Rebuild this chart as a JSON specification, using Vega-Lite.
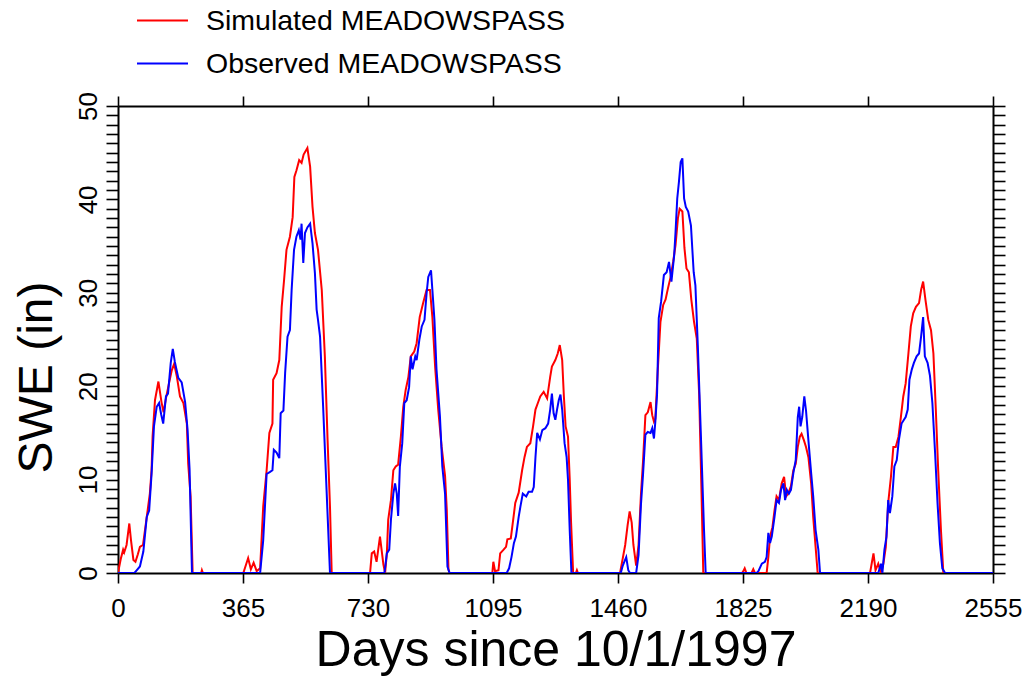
{
  "$schema": "https://vega.github.io/schema/vega-lite/v6.json",
  "width": 875,
  "height": 467,
  "autosize": {"type": "none"},
  "padding": {"left": 118, "top": 106, "right": 38, "bottom": 107},
  "background": "white",
  "config": {
    "view": {"stroke": null},
    "font": "Liberation Sans",
    "axis": {
      "domainColor": "black", "domainWidth": 2, "tickColor": "black", "tickWidth": 1.6,
      "labelColor": "black", "titleColor": "black", "grid": false, "zindex": 1,
      "labelFont": "Liberation Sans", "titleFont": "Liberation Sans", "titleFontWeight": "normal"
    }
  },
  "datasets": {
    "swe": [
      {"day": 0, "swe": 0, "series": "Simulated MEADOWSPASS"},
      {"day": 8, "swe": 1.5, "series": "Simulated MEADOWSPASS"},
      {"day": 15, "swe": 2.5, "series": "Simulated MEADOWSPASS"},
      {"day": 18, "swe": 2.2, "series": "Simulated MEADOWSPASS"},
      {"day": 25, "swe": 3, "series": "Simulated MEADOWSPASS"},
      {"day": 33, "swe": 5.3, "series": "Simulated MEADOWSPASS"},
      {"day": 38, "swe": 3.5, "series": "Simulated MEADOWSPASS"},
      {"day": 45, "swe": 1.4, "series": "Simulated MEADOWSPASS"},
      {"day": 51, "swe": 1.2, "series": "Simulated MEADOWSPASS"},
      {"day": 58, "swe": 2, "series": "Simulated MEADOWSPASS"},
      {"day": 64, "swe": 2.8, "series": "Simulated MEADOWSPASS"},
      {"day": 73, "swe": 3, "series": "Simulated MEADOWSPASS"},
      {"day": 84, "swe": 6, "series": "Simulated MEADOWSPASS"},
      {"day": 93, "swe": 8.5, "series": "Simulated MEADOWSPASS"},
      {"day": 98, "swe": 11, "series": "Simulated MEADOWSPASS"},
      {"day": 101, "swe": 14.6, "series": "Simulated MEADOWSPASS"},
      {"day": 108, "swe": 18.5, "series": "Simulated MEADOWSPASS"},
      {"day": 118, "swe": 20.5, "series": "Simulated MEADOWSPASS"},
      {"day": 127, "swe": 18.3, "series": "Simulated MEADOWSPASS"},
      {"day": 133, "swe": 17.2, "series": "Simulated MEADOWSPASS"},
      {"day": 140, "swe": 18.7, "series": "Simulated MEADOWSPASS"},
      {"day": 150, "swe": 20.5, "series": "Simulated MEADOWSPASS"},
      {"day": 157, "swe": 21.7, "series": "Simulated MEADOWSPASS"},
      {"day": 164, "swe": 22.4, "series": "Simulated MEADOWSPASS"},
      {"day": 172, "swe": 21, "series": "Simulated MEADOWSPASS"},
      {"day": 181, "swe": 18.9, "series": "Simulated MEADOWSPASS"},
      {"day": 191, "swe": 18.2, "series": "Simulated MEADOWSPASS"},
      {"day": 201, "swe": 16, "series": "Simulated MEADOWSPASS"},
      {"day": 205, "swe": 11.7, "series": "Simulated MEADOWSPASS"},
      {"day": 212, "swe": 8.2, "series": "Simulated MEADOWSPASS"},
      {"day": 218, "swe": 0, "series": "Simulated MEADOWSPASS"},
      {"day": 243, "swe": 0, "series": "Simulated MEADOWSPASS"},
      {"day": 245, "swe": 0.3, "series": "Simulated MEADOWSPASS"},
      {"day": 248, "swe": 0, "series": "Simulated MEADOWSPASS"},
      {"day": 366, "swe": 0, "series": "Simulated MEADOWSPASS"},
      {"day": 380, "swe": 1.6, "series": "Simulated MEADOWSPASS"},
      {"day": 388, "swe": 0.4, "series": "Simulated MEADOWSPASS"},
      {"day": 396, "swe": 1.1, "series": "Simulated MEADOWSPASS"},
      {"day": 405, "swe": 0.2, "series": "Simulated MEADOWSPASS"},
      {"day": 415, "swe": 0.5, "series": "Simulated MEADOWSPASS"},
      {"day": 424, "swe": 7.1, "series": "Simulated MEADOWSPASS"},
      {"day": 434, "swe": 11, "series": "Simulated MEADOWSPASS"},
      {"day": 442, "swe": 15, "series": "Simulated MEADOWSPASS"},
      {"day": 451, "swe": 16, "series": "Simulated MEADOWSPASS"},
      {"day": 453, "swe": 20.7, "series": "Simulated MEADOWSPASS"},
      {"day": 463, "swe": 21.4, "series": "Simulated MEADOWSPASS"},
      {"day": 471, "swe": 22.8, "series": "Simulated MEADOWSPASS"},
      {"day": 478, "swe": 28.5, "series": "Simulated MEADOWSPASS"},
      {"day": 485, "swe": 31.4, "series": "Simulated MEADOWSPASS"},
      {"day": 492, "swe": 34.6, "series": "Simulated MEADOWSPASS"},
      {"day": 502, "swe": 36, "series": "Simulated MEADOWSPASS"},
      {"day": 510, "swe": 38.1, "series": "Simulated MEADOWSPASS"},
      {"day": 515, "swe": 42.4, "series": "Simulated MEADOWSPASS"},
      {"day": 521, "swe": 43.1, "series": "Simulated MEADOWSPASS"},
      {"day": 529, "swe": 44.2, "series": "Simulated MEADOWSPASS"},
      {"day": 536, "swe": 43.9, "series": "Simulated MEADOWSPASS"},
      {"day": 542, "swe": 44.8, "series": "Simulated MEADOWSPASS"},
      {"day": 553, "swe": 45.5, "series": "Simulated MEADOWSPASS"},
      {"day": 561, "swe": 43.5, "series": "Simulated MEADOWSPASS"},
      {"day": 568, "swe": 39.2, "series": "Simulated MEADOWSPASS"},
      {"day": 575, "swe": 36.4, "series": "Simulated MEADOWSPASS"},
      {"day": 584, "swe": 34.6, "series": "Simulated MEADOWSPASS"},
      {"day": 595, "swe": 30.3, "series": "Simulated MEADOWSPASS"},
      {"day": 604, "swe": 23.2, "series": "Simulated MEADOWSPASS"},
      {"day": 612, "swe": 14.2, "series": "Simulated MEADOWSPASS"},
      {"day": 619, "swe": 7.1, "series": "Simulated MEADOWSPASS"},
      {"day": 624, "swe": 0, "series": "Simulated MEADOWSPASS"},
      {"day": 736, "swe": 0, "series": "Simulated MEADOWSPASS"},
      {"day": 741, "swe": 2.1, "series": "Simulated MEADOWSPASS"},
      {"day": 748, "swe": 2.3, "series": "Simulated MEADOWSPASS"},
      {"day": 755, "swe": 1.2, "series": "Simulated MEADOWSPASS"},
      {"day": 765, "swe": 3.9, "series": "Simulated MEADOWSPASS"},
      {"day": 775, "swe": 0.9, "series": "Simulated MEADOWSPASS"},
      {"day": 780, "swe": 0, "series": "Simulated MEADOWSPASS"},
      {"day": 785, "swe": 2.1, "series": "Simulated MEADOWSPASS"},
      {"day": 789, "swe": 5.7, "series": "Simulated MEADOWSPASS"},
      {"day": 797, "swe": 7.8, "series": "Simulated MEADOWSPASS"},
      {"day": 804, "swe": 11, "series": "Simulated MEADOWSPASS"},
      {"day": 811, "swe": 11.4, "series": "Simulated MEADOWSPASS"},
      {"day": 818, "swe": 11.6, "series": "Simulated MEADOWSPASS"},
      {"day": 826, "swe": 14.6, "series": "Simulated MEADOWSPASS"},
      {"day": 833, "swe": 17.8, "series": "Simulated MEADOWSPASS"},
      {"day": 840, "swe": 19.6, "series": "Simulated MEADOWSPASS"},
      {"day": 848, "swe": 21, "series": "Simulated MEADOWSPASS"},
      {"day": 855, "swe": 23.2, "series": "Simulated MEADOWSPASS"},
      {"day": 865, "swe": 23.7, "series": "Simulated MEADOWSPASS"},
      {"day": 872, "swe": 24.6, "series": "Simulated MEADOWSPASS"},
      {"day": 881, "swe": 27.4, "series": "Simulated MEADOWSPASS"},
      {"day": 891, "swe": 28.9, "series": "Simulated MEADOWSPASS"},
      {"day": 901, "swe": 30.3, "series": "Simulated MEADOWSPASS"},
      {"day": 911, "swe": 30.3, "series": "Simulated MEADOWSPASS"},
      {"day": 918, "swe": 27.4, "series": "Simulated MEADOWSPASS"},
      {"day": 926, "swe": 22.1, "series": "Simulated MEADOWSPASS"},
      {"day": 935, "swe": 17.5, "series": "Simulated MEADOWSPASS"},
      {"day": 945, "swe": 13.5, "series": "Simulated MEADOWSPASS"},
      {"day": 955, "swe": 10.4, "series": "Simulated MEADOWSPASS"},
      {"day": 960, "swe": 6.8, "series": "Simulated MEADOWSPASS"},
      {"day": 965, "swe": 0.4, "series": "Simulated MEADOWSPASS"},
      {"day": 968, "swe": 0, "series": "Simulated MEADOWSPASS"},
      {"day": 1093, "swe": 0, "series": "Simulated MEADOWSPASS"},
      {"day": 1096, "swe": 1.2, "series": "Simulated MEADOWSPASS"},
      {"day": 1101, "swe": 0.2, "series": "Simulated MEADOWSPASS"},
      {"day": 1111, "swe": 0.3, "series": "Simulated MEADOWSPASS"},
      {"day": 1116, "swe": 2.1, "series": "Simulated MEADOWSPASS"},
      {"day": 1126, "swe": 2.5, "series": "Simulated MEADOWSPASS"},
      {"day": 1133, "swe": 2.8, "series": "Simulated MEADOWSPASS"},
      {"day": 1137, "swe": 3.6, "series": "Simulated MEADOWSPASS"},
      {"day": 1147, "swe": 3.7, "series": "Simulated MEADOWSPASS"},
      {"day": 1155, "swe": 6, "series": "Simulated MEADOWSPASS"},
      {"day": 1160, "swe": 7.5, "series": "Simulated MEADOWSPASS"},
      {"day": 1170, "swe": 8.6, "series": "Simulated MEADOWSPASS"},
      {"day": 1180, "swe": 11, "series": "Simulated MEADOWSPASS"},
      {"day": 1187, "swe": 12.4, "series": "Simulated MEADOWSPASS"},
      {"day": 1194, "swe": 13.5, "series": "Simulated MEADOWSPASS"},
      {"day": 1204, "swe": 13.9, "series": "Simulated MEADOWSPASS"},
      {"day": 1212, "swe": 15.7, "series": "Simulated MEADOWSPASS"},
      {"day": 1219, "swe": 17.5, "series": "Simulated MEADOWSPASS"},
      {"day": 1226, "swe": 18.2, "series": "Simulated MEADOWSPASS"},
      {"day": 1233, "swe": 18.9, "series": "Simulated MEADOWSPASS"},
      {"day": 1243, "swe": 19.4, "series": "Simulated MEADOWSPASS"},
      {"day": 1253, "swe": 18.7, "series": "Simulated MEADOWSPASS"},
      {"day": 1262, "swe": 21, "series": "Simulated MEADOWSPASS"},
      {"day": 1267, "swe": 22.1, "series": "Simulated MEADOWSPASS"},
      {"day": 1277, "swe": 22.8, "series": "Simulated MEADOWSPASS"},
      {"day": 1284, "swe": 23.5, "series": "Simulated MEADOWSPASS"},
      {"day": 1290, "swe": 24.4, "series": "Simulated MEADOWSPASS"},
      {"day": 1297, "swe": 22.8, "series": "Simulated MEADOWSPASS"},
      {"day": 1302, "swe": 18.9, "series": "Simulated MEADOWSPASS"},
      {"day": 1307, "swe": 15.7, "series": "Simulated MEADOWSPASS"},
      {"day": 1314, "swe": 14.6, "series": "Simulated MEADOWSPASS"},
      {"day": 1319, "swe": 10, "series": "Simulated MEADOWSPASS"},
      {"day": 1323, "swe": 5.4, "series": "Simulated MEADOWSPASS"},
      {"day": 1329, "swe": 0, "series": "Simulated MEADOWSPASS"},
      {"day": 1337, "swe": 0, "series": "Simulated MEADOWSPASS"},
      {"day": 1340, "swe": 0.3, "series": "Simulated MEADOWSPASS"},
      {"day": 1343, "swe": 0, "series": "Simulated MEADOWSPASS"},
      {"day": 1466, "swe": 0, "series": "Simulated MEADOWSPASS"},
      {"day": 1474, "swe": 1.6, "series": "Simulated MEADOWSPASS"},
      {"day": 1481, "swe": 3, "series": "Simulated MEADOWSPASS"},
      {"day": 1488, "swe": 5.1, "series": "Simulated MEADOWSPASS"},
      {"day": 1494, "swe": 6.6, "series": "Simulated MEADOWSPASS"},
      {"day": 1500, "swe": 5.4, "series": "Simulated MEADOWSPASS"},
      {"day": 1505, "swe": 3, "series": "Simulated MEADOWSPASS"},
      {"day": 1513, "swe": 0.8, "series": "Simulated MEADOWSPASS"},
      {"day": 1520, "swe": 3, "series": "Simulated MEADOWSPASS"},
      {"day": 1527, "swe": 8.4, "series": "Simulated MEADOWSPASS"},
      {"day": 1533, "swe": 11.9, "series": "Simulated MEADOWSPASS"},
      {"day": 1540, "swe": 16.9, "series": "Simulated MEADOWSPASS"},
      {"day": 1547, "swe": 17.2, "series": "Simulated MEADOWSPASS"},
      {"day": 1555, "swe": 18.3, "series": "Simulated MEADOWSPASS"},
      {"day": 1560, "swe": 16.9, "series": "Simulated MEADOWSPASS"},
      {"day": 1565, "swe": 16.2, "series": "Simulated MEADOWSPASS"},
      {"day": 1569, "swe": 16.5, "series": "Simulated MEADOWSPASS"},
      {"day": 1576, "swe": 21.6, "series": "Simulated MEADOWSPASS"},
      {"day": 1584, "swe": 26.9, "series": "Simulated MEADOWSPASS"},
      {"day": 1592, "swe": 28.7, "series": "Simulated MEADOWSPASS"},
      {"day": 1599, "swe": 29.3, "series": "Simulated MEADOWSPASS"},
      {"day": 1606, "swe": 30.5, "series": "Simulated MEADOWSPASS"},
      {"day": 1613, "swe": 31.6, "series": "Simulated MEADOWSPASS"},
      {"day": 1621, "swe": 33.3, "series": "Simulated MEADOWSPASS"},
      {"day": 1628, "swe": 35.1, "series": "Simulated MEADOWSPASS"},
      {"day": 1635, "swe": 38, "series": "Simulated MEADOWSPASS"},
      {"day": 1640, "swe": 39, "series": "Simulated MEADOWSPASS"},
      {"day": 1648, "swe": 38.7, "series": "Simulated MEADOWSPASS"},
      {"day": 1654, "swe": 34.8, "series": "Simulated MEADOWSPASS"},
      {"day": 1660, "swe": 32.6, "series": "Simulated MEADOWSPASS"},
      {"day": 1667, "swe": 32.2, "series": "Simulated MEADOWSPASS"},
      {"day": 1674, "swe": 29.3, "series": "Simulated MEADOWSPASS"},
      {"day": 1682, "swe": 26.9, "series": "Simulated MEADOWSPASS"},
      {"day": 1690, "swe": 25.1, "series": "Simulated MEADOWSPASS"},
      {"day": 1697, "swe": 19.1, "series": "Simulated MEADOWSPASS"},
      {"day": 1704, "swe": 8.4, "series": "Simulated MEADOWSPASS"},
      {"day": 1709, "swe": 0, "series": "Simulated MEADOWSPASS"},
      {"day": 1822, "swe": 0, "series": "Simulated MEADOWSPASS"},
      {"day": 1826, "swe": 0.2, "series": "Simulated MEADOWSPASS"},
      {"day": 1830, "swe": 0.5, "series": "Simulated MEADOWSPASS"},
      {"day": 1835, "swe": 0, "series": "Simulated MEADOWSPASS"},
      {"day": 1850, "swe": 0, "series": "Simulated MEADOWSPASS"},
      {"day": 1855, "swe": 0.4, "series": "Simulated MEADOWSPASS"},
      {"day": 1860, "swe": 0, "series": "Simulated MEADOWSPASS"},
      {"day": 1894, "swe": 0, "series": "Simulated MEADOWSPASS"},
      {"day": 1899, "swe": 1.7, "series": "Simulated MEADOWSPASS"},
      {"day": 1904, "swe": 3.9, "series": "Simulated MEADOWSPASS"},
      {"day": 1911, "swe": 4.9, "series": "Simulated MEADOWSPASS"},
      {"day": 1917, "swe": 6.7, "series": "Simulated MEADOWSPASS"},
      {"day": 1923, "swe": 8.2, "series": "Simulated MEADOWSPASS"},
      {"day": 1930, "swe": 7.8, "series": "Simulated MEADOWSPASS"},
      {"day": 1938, "swe": 9.6, "series": "Simulated MEADOWSPASS"},
      {"day": 1945, "swe": 10.3, "series": "Simulated MEADOWSPASS"},
      {"day": 1951, "swe": 8.2, "series": "Simulated MEADOWSPASS"},
      {"day": 1957, "swe": 8.5, "series": "Simulated MEADOWSPASS"},
      {"day": 1965, "swe": 9.3, "series": "Simulated MEADOWSPASS"},
      {"day": 1972, "swe": 11, "series": "Simulated MEADOWSPASS"},
      {"day": 1979, "swe": 11.7, "series": "Simulated MEADOWSPASS"},
      {"day": 1985, "swe": 13.5, "series": "Simulated MEADOWSPASS"},
      {"day": 1991, "swe": 14.6, "series": "Simulated MEADOWSPASS"},
      {"day": 1996, "swe": 14.9, "series": "Simulated MEADOWSPASS"},
      {"day": 2003, "swe": 14.2, "series": "Simulated MEADOWSPASS"},
      {"day": 2009, "swe": 13.5, "series": "Simulated MEADOWSPASS"},
      {"day": 2016, "swe": 12.4, "series": "Simulated MEADOWSPASS"},
      {"day": 2024, "swe": 9.6, "series": "Simulated MEADOWSPASS"},
      {"day": 2030, "swe": 6, "series": "Simulated MEADOWSPASS"},
      {"day": 2037, "swe": 2.8, "series": "Simulated MEADOWSPASS"},
      {"day": 2043, "swe": 0, "series": "Simulated MEADOWSPASS"},
      {"day": 2196, "swe": 0, "series": "Simulated MEADOWSPASS"},
      {"day": 2206, "swe": 2.1, "series": "Simulated MEADOWSPASS"},
      {"day": 2212, "swe": 0.3, "series": "Simulated MEADOWSPASS"},
      {"day": 2220, "swe": 1, "series": "Simulated MEADOWSPASS"},
      {"day": 2228, "swe": 0, "series": "Simulated MEADOWSPASS"},
      {"day": 2235, "swe": 1, "series": "Simulated MEADOWSPASS"},
      {"day": 2242, "swe": 2.8, "series": "Simulated MEADOWSPASS"},
      {"day": 2249, "swe": 7.5, "series": "Simulated MEADOWSPASS"},
      {"day": 2257, "swe": 10.3, "series": "Simulated MEADOWSPASS"},
      {"day": 2264, "swe": 13.5, "series": "Simulated MEADOWSPASS"},
      {"day": 2271, "swe": 13.5, "series": "Simulated MEADOWSPASS"},
      {"day": 2279, "swe": 14.6, "series": "Simulated MEADOWSPASS"},
      {"day": 2286, "swe": 16.7, "series": "Simulated MEADOWSPASS"},
      {"day": 2293, "swe": 18.9, "series": "Simulated MEADOWSPASS"},
      {"day": 2300, "swe": 20.3, "series": "Simulated MEADOWSPASS"},
      {"day": 2308, "swe": 23.5, "series": "Simulated MEADOWSPASS"},
      {"day": 2315, "swe": 26.4, "series": "Simulated MEADOWSPASS"},
      {"day": 2322, "swe": 27.8, "series": "Simulated MEADOWSPASS"},
      {"day": 2330, "swe": 28.5, "series": "Simulated MEADOWSPASS"},
      {"day": 2339, "swe": 28.9, "series": "Simulated MEADOWSPASS"},
      {"day": 2345, "swe": 30.3, "series": "Simulated MEADOWSPASS"},
      {"day": 2351, "swe": 31.2, "series": "Simulated MEADOWSPASS"},
      {"day": 2358, "swe": 29.2, "series": "Simulated MEADOWSPASS"},
      {"day": 2366, "swe": 27.1, "series": "Simulated MEADOWSPASS"},
      {"day": 2374, "swe": 26, "series": "Simulated MEADOWSPASS"},
      {"day": 2381, "swe": 23.5, "series": "Simulated MEADOWSPASS"},
      {"day": 2388, "swe": 17.5, "series": "Simulated MEADOWSPASS"},
      {"day": 2395, "swe": 11, "series": "Simulated MEADOWSPASS"},
      {"day": 2403, "swe": 4.6, "series": "Simulated MEADOWSPASS"},
      {"day": 2410, "swe": 0, "series": "Simulated MEADOWSPASS"},
      {"day": 2555, "swe": 0, "series": "Simulated MEADOWSPASS"},

      {"day": 0, "swe": 0, "series": "Observed MEADOWSPASS"},
      {"day": 48, "swe": 0, "series": "Observed MEADOWSPASS"},
      {"day": 55, "swe": 0.3, "series": "Observed MEADOWSPASS"},
      {"day": 64, "swe": 0.7, "series": "Observed MEADOWSPASS"},
      {"day": 74, "swe": 2.3, "series": "Observed MEADOWSPASS"},
      {"day": 84, "swe": 6, "series": "Observed MEADOWSPASS"},
      {"day": 91, "swe": 6.7, "series": "Observed MEADOWSPASS"},
      {"day": 98, "swe": 10.6, "series": "Observed MEADOWSPASS"},
      {"day": 105, "swe": 15.7, "series": "Observed MEADOWSPASS"},
      {"day": 113, "swe": 17.8, "series": "Observed MEADOWSPASS"},
      {"day": 120, "swe": 18.2, "series": "Observed MEADOWSPASS"},
      {"day": 126, "swe": 17, "series": "Observed MEADOWSPASS"},
      {"day": 132, "swe": 16, "series": "Observed MEADOWSPASS"},
      {"day": 140, "swe": 18.9, "series": "Observed MEADOWSPASS"},
      {"day": 146, "swe": 19.2, "series": "Observed MEADOWSPASS"},
      {"day": 154, "swe": 22.5, "series": "Observed MEADOWSPASS"},
      {"day": 160, "swe": 24, "series": "Observed MEADOWSPASS"},
      {"day": 166, "swe": 22.6, "series": "Observed MEADOWSPASS"},
      {"day": 176, "swe": 20.9, "series": "Observed MEADOWSPASS"},
      {"day": 186, "swe": 20.4, "series": "Observed MEADOWSPASS"},
      {"day": 196, "swe": 18.3, "series": "Observed MEADOWSPASS"},
      {"day": 203, "swe": 15.4, "series": "Observed MEADOWSPASS"},
      {"day": 209, "swe": 11.1, "series": "Observed MEADOWSPASS"},
      {"day": 216, "swe": 0, "series": "Observed MEADOWSPASS"},
      {"day": 415, "swe": 0, "series": "Observed MEADOWSPASS"},
      {"day": 424, "swe": 3.5, "series": "Observed MEADOWSPASS"},
      {"day": 434, "swe": 10.6, "series": "Observed MEADOWSPASS"},
      {"day": 443, "swe": 10.8, "series": "Observed MEADOWSPASS"},
      {"day": 451, "swe": 11, "series": "Observed MEADOWSPASS"},
      {"day": 455, "swe": 13.2, "series": "Observed MEADOWSPASS"},
      {"day": 463, "swe": 12.9, "series": "Observed MEADOWSPASS"},
      {"day": 471, "swe": 12.3, "series": "Observed MEADOWSPASS"},
      {"day": 475, "swe": 17.1, "series": "Observed MEADOWSPASS"},
      {"day": 483, "swe": 17.4, "series": "Observed MEADOWSPASS"},
      {"day": 488, "swe": 21.4, "series": "Observed MEADOWSPASS"},
      {"day": 495, "swe": 25.3, "series": "Observed MEADOWSPASS"},
      {"day": 502, "swe": 26, "series": "Observed MEADOWSPASS"},
      {"day": 507, "swe": 30.3, "series": "Observed MEADOWSPASS"},
      {"day": 514, "swe": 34.6, "series": "Observed MEADOWSPASS"},
      {"day": 521, "swe": 36, "series": "Observed MEADOWSPASS"},
      {"day": 528, "swe": 36.7, "series": "Observed MEADOWSPASS"},
      {"day": 533, "swe": 35.7, "series": "Observed MEADOWSPASS"},
      {"day": 536, "swe": 37.4, "series": "Observed MEADOWSPASS"},
      {"day": 541, "swe": 33.2, "series": "Observed MEADOWSPASS"},
      {"day": 546, "swe": 36.4, "series": "Observed MEADOWSPASS"},
      {"day": 553, "swe": 37, "series": "Observed MEADOWSPASS"},
      {"day": 561, "swe": 37.4, "series": "Observed MEADOWSPASS"},
      {"day": 568, "swe": 35.3, "series": "Observed MEADOWSPASS"},
      {"day": 575, "swe": 32.1, "series": "Observed MEADOWSPASS"},
      {"day": 580, "swe": 28.2, "series": "Observed MEADOWSPASS"},
      {"day": 584, "swe": 27.1, "series": "Observed MEADOWSPASS"},
      {"day": 590, "swe": 25.3, "series": "Observed MEADOWSPASS"},
      {"day": 599, "swe": 17.8, "series": "Observed MEADOWSPASS"},
      {"day": 609, "swe": 8.9, "series": "Observed MEADOWSPASS"},
      {"day": 619, "swe": 0, "series": "Observed MEADOWSPASS"},
      {"day": 778, "swe": 0, "series": "Observed MEADOWSPASS"},
      {"day": 785, "swe": 2.1, "series": "Observed MEADOWSPASS"},
      {"day": 792, "swe": 2.5, "series": "Observed MEADOWSPASS"},
      {"day": 797, "swe": 5.7, "series": "Observed MEADOWSPASS"},
      {"day": 804, "swe": 8.5, "series": "Observed MEADOWSPASS"},
      {"day": 809, "swe": 9.6, "series": "Observed MEADOWSPASS"},
      {"day": 814, "swe": 8.5, "series": "Observed MEADOWSPASS"},
      {"day": 818, "swe": 6.1, "series": "Observed MEADOWSPASS"},
      {"day": 823, "swe": 11.4, "series": "Observed MEADOWSPASS"},
      {"day": 830, "swe": 13.9, "series": "Observed MEADOWSPASS"},
      {"day": 836, "swe": 18.2, "series": "Observed MEADOWSPASS"},
      {"day": 843, "swe": 18.5, "series": "Observed MEADOWSPASS"},
      {"day": 850, "swe": 19.9, "series": "Observed MEADOWSPASS"},
      {"day": 855, "swe": 23.2, "series": "Observed MEADOWSPASS"},
      {"day": 860, "swe": 21.8, "series": "Observed MEADOWSPASS"},
      {"day": 868, "swe": 23.2, "series": "Observed MEADOWSPASS"},
      {"day": 872, "swe": 22.8, "series": "Observed MEADOWSPASS"},
      {"day": 880, "swe": 25, "series": "Observed MEADOWSPASS"},
      {"day": 887, "swe": 26.4, "series": "Observed MEADOWSPASS"},
      {"day": 895, "swe": 27.1, "series": "Observed MEADOWSPASS"},
      {"day": 901, "swe": 29.9, "series": "Observed MEADOWSPASS"},
      {"day": 906, "swe": 31.7, "series": "Observed MEADOWSPASS"},
      {"day": 914, "swe": 32.4, "series": "Observed MEADOWSPASS"},
      {"day": 918, "swe": 30.3, "series": "Observed MEADOWSPASS"},
      {"day": 924, "swe": 27.1, "series": "Observed MEADOWSPASS"},
      {"day": 930, "swe": 21.8, "series": "Observed MEADOWSPASS"},
      {"day": 940, "swe": 16.8, "series": "Observed MEADOWSPASS"},
      {"day": 947, "swe": 11.4, "series": "Observed MEADOWSPASS"},
      {"day": 955, "swe": 8.5, "series": "Observed MEADOWSPASS"},
      {"day": 962, "swe": 0.7, "series": "Observed MEADOWSPASS"},
      {"day": 968, "swe": 0, "series": "Observed MEADOWSPASS"},
      {"day": 1135, "swe": 0, "series": "Observed MEADOWSPASS"},
      {"day": 1142, "swe": 0.5, "series": "Observed MEADOWSPASS"},
      {"day": 1149, "swe": 1.7, "series": "Observed MEADOWSPASS"},
      {"day": 1156, "swe": 3.2, "series": "Observed MEADOWSPASS"},
      {"day": 1162, "swe": 3.9, "series": "Observed MEADOWSPASS"},
      {"day": 1170, "swe": 6, "series": "Observed MEADOWSPASS"},
      {"day": 1175, "swe": 7.1, "series": "Observed MEADOWSPASS"},
      {"day": 1182, "swe": 8.5, "series": "Observed MEADOWSPASS"},
      {"day": 1192, "swe": 8.2, "series": "Observed MEADOWSPASS"},
      {"day": 1199, "swe": 8.7, "series": "Observed MEADOWSPASS"},
      {"day": 1209, "swe": 8.7, "series": "Observed MEADOWSPASS"},
      {"day": 1214, "swe": 9.2, "series": "Observed MEADOWSPASS"},
      {"day": 1219, "swe": 12.4, "series": "Observed MEADOWSPASS"},
      {"day": 1224, "swe": 15, "series": "Observed MEADOWSPASS"},
      {"day": 1232, "swe": 14.3, "series": "Observed MEADOWSPASS"},
      {"day": 1239, "swe": 15.3, "series": "Observed MEADOWSPASS"},
      {"day": 1248, "swe": 15.5, "series": "Observed MEADOWSPASS"},
      {"day": 1256, "swe": 16, "series": "Observed MEADOWSPASS"},
      {"day": 1262, "swe": 17.5, "series": "Observed MEADOWSPASS"},
      {"day": 1267, "swe": 19.2, "series": "Observed MEADOWSPASS"},
      {"day": 1272, "swe": 17.1, "series": "Observed MEADOWSPASS"},
      {"day": 1277, "swe": 16.4, "series": "Observed MEADOWSPASS"},
      {"day": 1282, "swe": 17.5, "series": "Observed MEADOWSPASS"},
      {"day": 1287, "swe": 18.5, "series": "Observed MEADOWSPASS"},
      {"day": 1292, "swe": 19.1, "series": "Observed MEADOWSPASS"},
      {"day": 1297, "swe": 17.5, "series": "Observed MEADOWSPASS"},
      {"day": 1304, "swe": 13.9, "series": "Observed MEADOWSPASS"},
      {"day": 1310, "swe": 12.4, "series": "Observed MEADOWSPASS"},
      {"day": 1314, "swe": 10, "series": "Observed MEADOWSPASS"},
      {"day": 1319, "swe": 4.6, "series": "Observed MEADOWSPASS"},
      {"day": 1324, "swe": 0, "series": "Observed MEADOWSPASS"},
      {"day": 1468, "swe": 0, "series": "Observed MEADOWSPASS"},
      {"day": 1474, "swe": 0.8, "series": "Observed MEADOWSPASS"},
      {"day": 1484, "swe": 1.7, "series": "Observed MEADOWSPASS"},
      {"day": 1490, "swe": 0.3, "series": "Observed MEADOWSPASS"},
      {"day": 1495, "swe": 0, "series": "Observed MEADOWSPASS"},
      {"day": 1513, "swe": 0, "series": "Observed MEADOWSPASS"},
      {"day": 1520, "swe": 1.9, "series": "Observed MEADOWSPASS"},
      {"day": 1527, "swe": 7.3, "series": "Observed MEADOWSPASS"},
      {"day": 1533, "swe": 10.5, "series": "Observed MEADOWSPASS"},
      {"day": 1540, "swe": 14.8, "series": "Observed MEADOWSPASS"},
      {"day": 1547, "swe": 15.1, "series": "Observed MEADOWSPASS"},
      {"day": 1555, "swe": 15, "series": "Observed MEADOWSPASS"},
      {"day": 1560, "swe": 15.5, "series": "Observed MEADOWSPASS"},
      {"day": 1565, "swe": 14.4, "series": "Observed MEADOWSPASS"},
      {"day": 1569, "swe": 16.2, "series": "Observed MEADOWSPASS"},
      {"day": 1574, "swe": 19.1, "series": "Observed MEADOWSPASS"},
      {"day": 1579, "swe": 27.3, "series": "Observed MEADOWSPASS"},
      {"day": 1586, "swe": 29.1, "series": "Observed MEADOWSPASS"},
      {"day": 1594, "swe": 31.9, "series": "Observed MEADOWSPASS"},
      {"day": 1602, "swe": 32.2, "series": "Observed MEADOWSPASS"},
      {"day": 1609, "swe": 33.3, "series": "Observed MEADOWSPASS"},
      {"day": 1616, "swe": 31.2, "series": "Observed MEADOWSPASS"},
      {"day": 1624, "swe": 34, "series": "Observed MEADOWSPASS"},
      {"day": 1628, "swe": 36.5, "series": "Observed MEADOWSPASS"},
      {"day": 1633, "swe": 40.1, "series": "Observed MEADOWSPASS"},
      {"day": 1638, "swe": 41.9, "series": "Observed MEADOWSPASS"},
      {"day": 1643, "swe": 44, "series": "Observed MEADOWSPASS"},
      {"day": 1648, "swe": 44.4, "series": "Observed MEADOWSPASS"},
      {"day": 1653, "swe": 40.1, "series": "Observed MEADOWSPASS"},
      {"day": 1658, "swe": 39.2, "series": "Observed MEADOWSPASS"},
      {"day": 1665, "swe": 38.7, "series": "Observed MEADOWSPASS"},
      {"day": 1673, "swe": 37.2, "series": "Observed MEADOWSPASS"},
      {"day": 1681, "swe": 32.2, "series": "Observed MEADOWSPASS"},
      {"day": 1686, "swe": 30.8, "series": "Observed MEADOWSPASS"},
      {"day": 1693, "swe": 24.4, "series": "Observed MEADOWSPASS"},
      {"day": 1703, "swe": 13.7, "series": "Observed MEADOWSPASS"},
      {"day": 1711, "swe": 4.8, "series": "Observed MEADOWSPASS"},
      {"day": 1716, "swe": 0, "series": "Observed MEADOWSPASS"},
      {"day": 1865, "swe": 0, "series": "Observed MEADOWSPASS"},
      {"day": 1870, "swe": 0.2, "series": "Observed MEADOWSPASS"},
      {"day": 1880, "swe": 1, "series": "Observed MEADOWSPASS"},
      {"day": 1889, "swe": 1.2, "series": "Observed MEADOWSPASS"},
      {"day": 1894, "swe": 1.7, "series": "Observed MEADOWSPASS"},
      {"day": 1899, "swe": 4.3, "series": "Observed MEADOWSPASS"},
      {"day": 1904, "swe": 3.2, "series": "Observed MEADOWSPASS"},
      {"day": 1909, "swe": 3.9, "series": "Observed MEADOWSPASS"},
      {"day": 1917, "swe": 6, "series": "Observed MEADOWSPASS"},
      {"day": 1923, "swe": 7.8, "series": "Observed MEADOWSPASS"},
      {"day": 1930, "swe": 7.5, "series": "Observed MEADOWSPASS"},
      {"day": 1936, "swe": 8.9, "series": "Observed MEADOWSPASS"},
      {"day": 1943, "swe": 9.6, "series": "Observed MEADOWSPASS"},
      {"day": 1948, "swe": 7.8, "series": "Observed MEADOWSPASS"},
      {"day": 1953, "swe": 8.9, "series": "Observed MEADOWSPASS"},
      {"day": 1959, "swe": 8.5, "series": "Observed MEADOWSPASS"},
      {"day": 1965, "swe": 8.9, "series": "Observed MEADOWSPASS"},
      {"day": 1972, "swe": 10.7, "series": "Observed MEADOWSPASS"},
      {"day": 1979, "swe": 12.1, "series": "Observed MEADOWSPASS"},
      {"day": 1985, "swe": 16.7, "series": "Observed MEADOWSPASS"},
      {"day": 1989, "swe": 17.8, "series": "Observed MEADOWSPASS"},
      {"day": 1993, "swe": 15.7, "series": "Observed MEADOWSPASS"},
      {"day": 1998, "swe": 16.7, "series": "Observed MEADOWSPASS"},
      {"day": 2004, "swe": 18.9, "series": "Observed MEADOWSPASS"},
      {"day": 2009, "swe": 17.4, "series": "Observed MEADOWSPASS"},
      {"day": 2016, "swe": 14.2, "series": "Observed MEADOWSPASS"},
      {"day": 2024, "swe": 10.7, "series": "Observed MEADOWSPASS"},
      {"day": 2030, "swe": 8.2, "series": "Observed MEADOWSPASS"},
      {"day": 2037, "swe": 4.6, "series": "Observed MEADOWSPASS"},
      {"day": 2045, "swe": 2.5, "series": "Observed MEADOWSPASS"},
      {"day": 2050, "swe": 0, "series": "Observed MEADOWSPASS"},
      {"day": 2220, "swe": 0, "series": "Observed MEADOWSPASS"},
      {"day": 2228, "swe": 1, "series": "Observed MEADOWSPASS"},
      {"day": 2232, "swe": 0, "series": "Observed MEADOWSPASS"},
      {"day": 2238, "swe": 2.5, "series": "Observed MEADOWSPASS"},
      {"day": 2244, "swe": 3.9, "series": "Observed MEADOWSPASS"},
      {"day": 2249, "swe": 7.8, "series": "Observed MEADOWSPASS"},
      {"day": 2254, "swe": 6.4, "series": "Observed MEADOWSPASS"},
      {"day": 2261, "swe": 8.2, "series": "Observed MEADOWSPASS"},
      {"day": 2267, "swe": 11.4, "series": "Observed MEADOWSPASS"},
      {"day": 2274, "swe": 12.1, "series": "Observed MEADOWSPASS"},
      {"day": 2280, "swe": 14.2, "series": "Observed MEADOWSPASS"},
      {"day": 2288, "swe": 16, "series": "Observed MEADOWSPASS"},
      {"day": 2295, "swe": 16.4, "series": "Observed MEADOWSPASS"},
      {"day": 2300, "swe": 16.7, "series": "Observed MEADOWSPASS"},
      {"day": 2306, "swe": 17.5, "series": "Observed MEADOWSPASS"},
      {"day": 2311, "swe": 20.7, "series": "Observed MEADOWSPASS"},
      {"day": 2318, "swe": 21.8, "series": "Observed MEADOWSPASS"},
      {"day": 2324, "swe": 22.5, "series": "Observed MEADOWSPASS"},
      {"day": 2332, "swe": 23.2, "series": "Observed MEADOWSPASS"},
      {"day": 2339, "swe": 23.5, "series": "Observed MEADOWSPASS"},
      {"day": 2345, "swe": 25.3, "series": "Observed MEADOWSPASS"},
      {"day": 2351, "swe": 27.4, "series": "Observed MEADOWSPASS"},
      {"day": 2356, "swe": 23.2, "series": "Observed MEADOWSPASS"},
      {"day": 2364, "swe": 22.5, "series": "Observed MEADOWSPASS"},
      {"day": 2371, "swe": 21.1, "series": "Observed MEADOWSPASS"},
      {"day": 2378, "swe": 18.2, "series": "Observed MEADOWSPASS"},
      {"day": 2386, "swe": 12.8, "series": "Observed MEADOWSPASS"},
      {"day": 2393, "swe": 7.5, "series": "Observed MEADOWSPASS"},
      {"day": 2400, "swe": 3.2, "series": "Observed MEADOWSPASS"},
      {"day": 2407, "swe": 0.5, "series": "Observed MEADOWSPASS"},
      {"day": 2415, "swe": 0, "series": "Observed MEADOWSPASS"},
      {"day": 2555, "swe": 0, "series": "Observed MEADOWSPASS"}
    ]
  },
  "data": {"name": "swe"},
  "layer": [
    {
      "transform": [{"filter": "datum.series === 'Simulated MEADOWSPASS'"}],
      "mark": {"type": "line", "strokeWidth": 2, "clip": true},
      "encoding": {
        "x": {
          "field": "day", "type": "quantitative",
          "scale": {"domain": [0, 2555], "nice": false, "zero": false},
          "axis": {
            "orient": "bottom", "values": [0, 365, 730, 1095, 1460, 1825, 2190, 2555],
            "format": "d",
            "tickSize": 10, "labelFontSize": 26, "labelPadding": 12, "labelFlush": false,
            "labelOverlap": false, "labelBound": false,
            "title": "Days since 10/1/1997", "titleFontSize": 50, "titlePadding": 4
          }
        },
        "y": {
          "field": "swe", "type": "quantitative",
          "scale": {"domain": [0, 50], "nice": false},
          "axis": {
            "orient": "left",
            "values": [0,1,2,3,4,5,6,7,8,9,10,11,12,13,14,15,16,17,18,19,20,21,22,23,24,25,26,27,28,29,30,31,32,33,34,35,36,37,38,39,40,41,42,43,44,45,46,47,48,49,50],
            "labelExpr": "datum.value % 10 === 0 ? datum.label : ''",
            "tickSize": 12, "labelFontSize": 26, "labelAngle": -90, "labelAlign": "center",
            "labelBaseline": "alphabetic", "labelPadding": 10, "labelFlush": false,
            "labelOverlap": false, "labelBound": false,
            "title": "SWE (in)", "titleFontSize": 48, "titlePadding": 14, "titleY": 271
          }
        },
        "color": {
          "field": "series", "type": "nominal",
          "scale": {"domain": ["Simulated MEADOWSPASS", "Observed MEADOWSPASS"], "range": ["#ff0000", "#0000ff"]},
          "legend": {
            "orient": "none", "legendX": 18, "legendY": -112, "title": null,
            "symbolType": "stroke", "symbolSize": 2601, "symbolStrokeWidth": 2,
            "labelFontSize": 28.5, "labelFont": "Liberation Sans", "labelColor": "black",
            "labelOffset": 17, "rowPadding": 2, "padding": 0, "labelLimit": 600
          }
        }
      }
    },
    {
      "transform": [{"filter": "datum.series === 'Observed MEADOWSPASS'"}],
      "mark": {"type": "line", "strokeWidth": 2, "clip": true},
      "encoding": {
        "x": {
          "field": "day", "type": "quantitative",
          "axis": {
            "orient": "top", "values": [0, 365, 730, 1095, 1460, 1825, 2190, 2555],
            "tickSize": 10, "labels": false, "title": null
          }
        },
        "y": {
          "field": "swe", "type": "quantitative",
          "axis": {
            "orient": "right",
            "values": [0,1,2,3,4,5,6,7,8,9,10,11,12,13,14,15,16,17,18,19,20,21,22,23,24,25,26,27,28,29,30,31,32,33,34,35,36,37,38,39,40,41,42,43,44,45,46,47,48,49,50],
            "tickSize": 12, "labels": false, "title": null
          }
        },
        "color": {"field": "series", "type": "nominal"}
      }
    }
  ],
  "resolve": {"axis": {"x": "independent", "y": "independent"}}
}
